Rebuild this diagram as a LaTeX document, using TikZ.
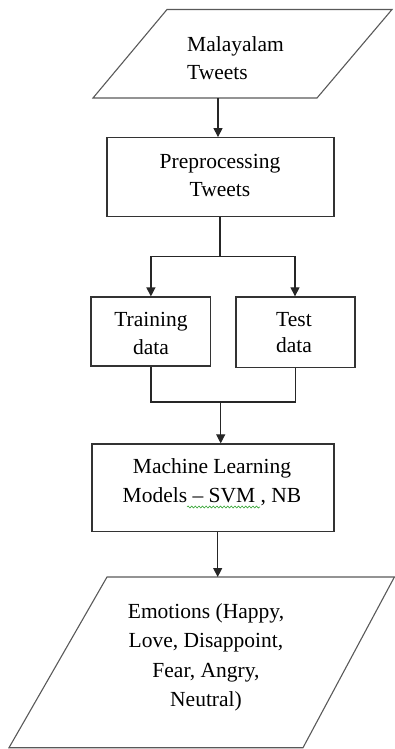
\documentclass[tikz,border=0pt]{standalone}
\usepackage{fontspec}
\setmainfont{Liberation Serif}
\usetikzlibrary{arrows.meta,decorations.pathmorphing}
\begin{document}
\begin{tikzpicture}[x=1pt,y=-1pt,
  box/.style={draw=black!80,line width=1.2pt,rectangle,inner sep=0pt},
  io/.style={draw=black!65,line width=1.1pt},
  % multi-line labels: the base anchor sits on the last line
  lbl/.style={font=\fontsize{21.5}{28.5}\selectfont,align=center,anchor=base,inner sep=0pt},
  link/.style={draw=black!85,line width=1.2pt},
  arr/.style={link,-{Triangle[length=9pt,width=9pt]}},
  squiggle/.style={draw=green!55!black!80,line width=0.6pt,
    decorate,decoration={snake,amplitude=1pt,segment length=3.6pt}}]
\useasboundingbox (0,0) rectangle (395,749);

% input: tweets
\draw[io] (167,9.5) -- (392,9.5) -- (317,98) -- (93,98) -- cycle;
\node[lbl,align=left,anchor=base west] (inText) at (187,80) {Malayalam\\Tweets};
\coordinate (inS) at (218,98);

% preprocessing step
\node[box,minimum width=227pt,minimum height=79pt] (prep) at (220.5,177.2) {};
\node[lbl] (prepText) at (220,196.7) {Preprocessing\\Tweets};

% data split
\node[box,minimum width=119.7pt,minimum height=69pt] (train) at (150.9,331.5) {};
\node[lbl,font=\fontsize{21.5}{27.3}\selectfont] (trainText) at (151,354) {Training\\data};
\node[box,minimum width=119pt,minimum height=70.7pt] (test) at (295.5,332.3) {};
\node[lbl,font=\fontsize{21.5}{25.5}\selectfont] (testText) at (294,352) {Test\\data};

% models
\node[box,minimum width=242pt,minimum height=87.7pt] (ml) at (213,487.8) {};
\node[lbl,font=\fontsize{21.5}{29.4}\selectfont] (mlText) at (212,502.7) {Machine Learning\\Models -- SVM , NB};
\draw[squiggle] (187,507) -- (260,507);

% output: emotions
\draw[io] (107,577) -- (394.4,577) -- (303,747.7) -- (9,747.7) -- cycle;
\node[lbl,font=\fontsize{21.5}{29.5}\selectfont] (outText) at (206,706.7) {Emotions (Happy,\\Love, Disappoint,\\Fear, Angry,\\Neutral)};
\coordinate (outN) at (217.7,577);

% connectors
\draw[arr] (inS) -- (inS |- prep.north);
\coordinate (split) at (220,256.7);
\draw[link] (prep.south -| split) -- (split);
\draw[arr] (split) -| (train.north);
\draw[arr] (split) -| ([xshift=-0.5pt]test.north);
\coordinate (join) at (220.7,402);
\draw[link] (train.south) |- (join);
\draw[link] ([xshift=0.2pt]test.south) |- (join);
\draw[arr] (join) -- (join |- ml.north);
\draw[arr] (ml.south -| outN) -- (outN);
\end{tikzpicture}
\end{document}
